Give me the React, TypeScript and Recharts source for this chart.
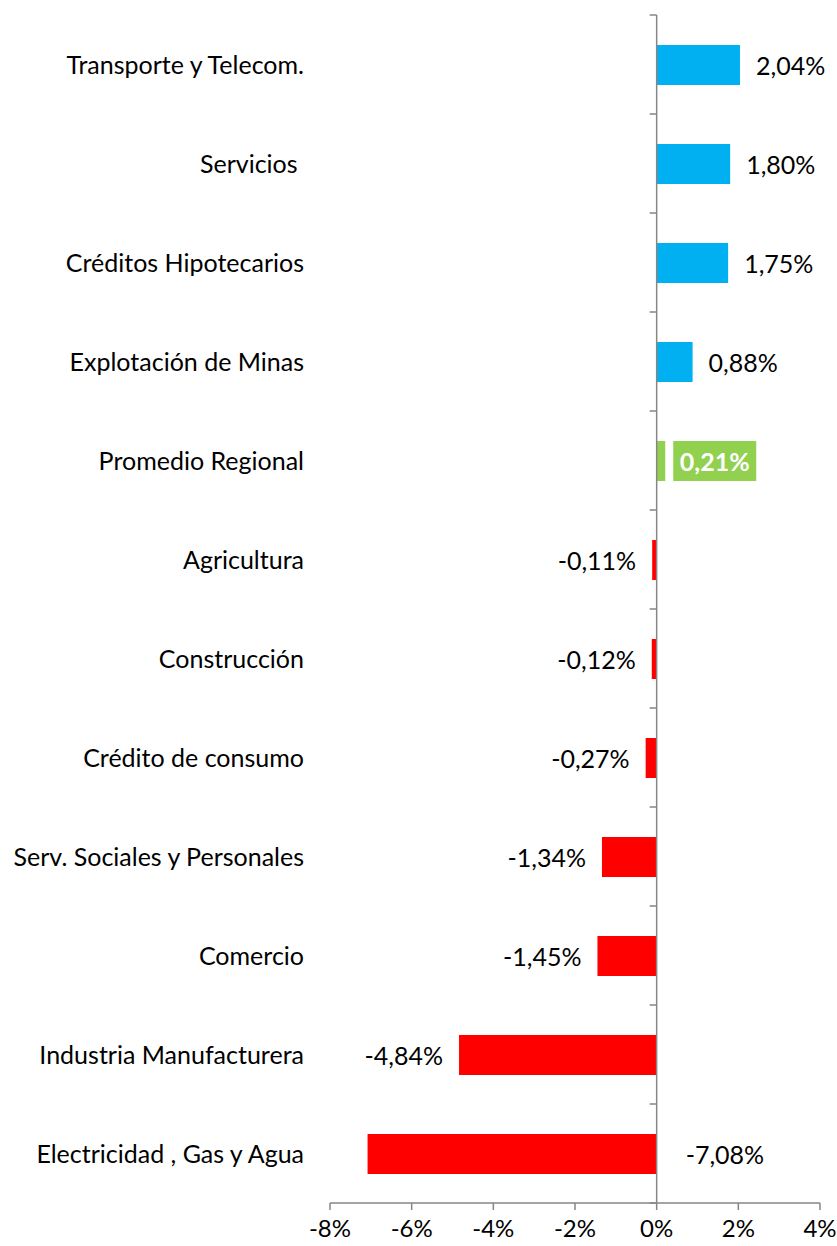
import { BarChart, Bar, XAxis, YAxis, Cell, LabelList, ReferenceLine } from 'recharts'

const categories = [
  'Transporte y Telecom.',
  'Servicios ',
  'Créditos Hipotecarios',
  'Explotación de Minas',
  'Promedio Regional',
  'Agricultura',
  'Construcción',
  'Crédito de consumo',
  'Serv. Sociales y Personales',
  'Comercio',
  'Industria Manufacturera',
  'Electricidad , Gas y Agua',
]
const values = [2.04, 1.8, 1.75, 0.88, 0.21, -0.11, -0.12, -0.27, -1.34, -1.45, -4.84, -7.08]
const xTicks = [-8, -6, -4, -2, 0, 2, 4]

// the average row is highlighted, the longest negative bar has its label past the zero line
const averageName = 'Promedio Regional'
const labelAtBase = ['Electricidad , Gas y Agua']

const BLUE = '#00B0F0'
const GREEN = '#92D050'
const RED = '#FF0000'
const AXIS = '#868686'
const FONT = 'Lato, "Open Sans", sans-serif'

const data = categories.map((name, i) => ({ name, value: values[i] }))

const fmt = (v: number) => v.toFixed(2).replace('.', ',') + '%'

function barColor(name: string, v: number) {
  if (name === averageName) return GREEN
  return v >= 0 ? BLUE : RED
}

function CategoryTick(props: any) {
  const { x, y, payload } = props
  return (
    <text
      x={x}
      y={y - 1}
      textAnchor="end"
      dominantBaseline="central"
      fontFamily={FONT}
      fontSize={25}
      fill="#000"
      style={{ whiteSpace: 'pre' }}
    >
      {payload.value}
    </text>
  )
}

function ValueLabel(props: any) {
  const { x, y, width, height, value, index } = props
  const name = categories[index]
  const left = Math.min(x, x + width)
  const right = Math.max(x, x + width)
  const cy = y + height / 2
  const text = fmt(value)

  if (name === averageName) {
    const boxX = right + 8
    const boxW = 83
    return (
      <g>
        <rect x={boxX} y={y} width={boxW} height={height} fill={GREEN} />
        <text
          x={boxX + boxW / 2}
          y={cy}
          textAnchor="middle"
          dominantBaseline="central"
          fontFamily={FONT}
          fontSize={25}
          fontWeight="bold"
          fill="#fff"
        >
          {text}
        </text>
      </g>
    )
  }

  let tx = right + 16
  let anchor: 'start' | 'end' = 'start'
  if (value < 0) {
    if (labelAtBase.includes(name)) {
      tx = right + 29
    } else {
      tx = left - 16
      anchor = 'end'
    }
  }
  return (
    <text
      x={tx}
      y={cy}
      textAnchor={anchor}
      dominantBaseline="central"
      fontFamily={FONT}
      fontSize={25}
      fill="#000"
    >
      {text}
    </text>
  )
}

function ZeroAxis(props: any) {
  const { x1, y1, y2 } = props
  const n = categories.length
  const step = (y2 - y1) / n
  const marks = []
  for (let i = 0; i <= n; i++) {
    const ty = y1 + i * step
    marks.push(<line key={i} x1={x1 - 7} x2={x1} y1={ty} y2={ty} stroke={AXIS} strokeWidth={1.5} />)
  }
  return (
    <g>
      <line x1={x1} x2={x1} y1={y1} y2={y2} stroke={AXIS} strokeWidth={1.5} />
      {marks}
    </g>
  )
}

export default function App() {
  return (
    <div style={{ position: 'absolute', left: 0, top: 0, width: 837, height: 1246, background: '#fff' }}>
      <BarChart
        width={837}
        height={1246}
        data={data}
        layout="vertical"
        margin={{ top: 15, right: 17, bottom: 0, left: 0 }}
      >
        <XAxis
          type="number"
          domain={[-8, 4]}
          ticks={xTicks}
          tickFormatter={(v: number) => `${v}%`}
          axisLine={{ stroke: AXIS, strokeWidth: 1.5 }}
          tickLine={{ stroke: AXIS, strokeWidth: 1.5 }}
          tickSize={7}
          tickMargin={10}
          height={43}
          tick={{ fill: '#000', fontSize: 24, fontFamily: FONT }}
        />
        <YAxis
          type="category"
          dataKey="name"
          width={330}
          axisLine={false}
          tickLine={false}
          tickSize={0}
          tickMargin={26}
          interval={0}
          tick={<CategoryTick />}
        />
        <ReferenceLine x={0} shape={<ZeroAxis />} />
        <Bar dataKey="value" barSize={40} isAnimationActive={false}>
          {data.map((d) => (
            <Cell key={d.name} fill={barColor(d.name, d.value)} />
          ))}
          <LabelList dataKey="value" content={<ValueLabel />} />
        </Bar>
      </BarChart>
    </div>
  )
}
